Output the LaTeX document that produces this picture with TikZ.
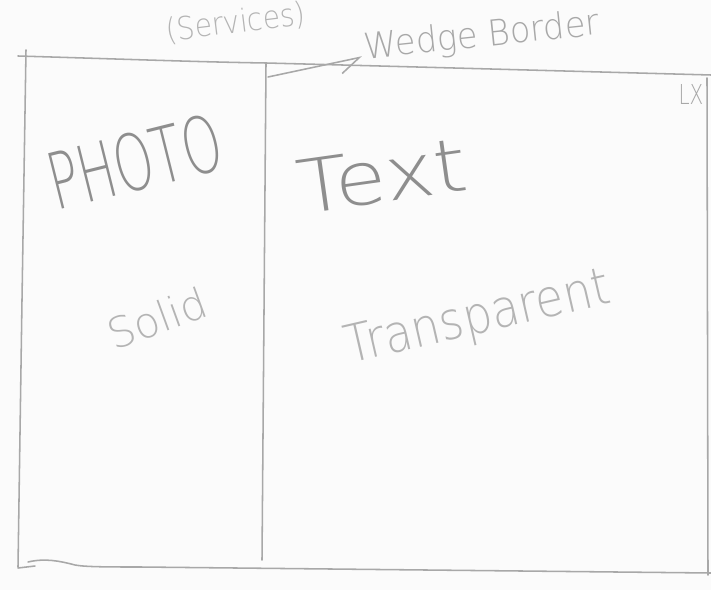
\documentclass[tikz,border=0pt]{standalone}
\usepackage{fontspec}
\usepackage{graphicx}
\newfontfamily\pencilfont{DejaVu Sans ExtraLight}
\usetikzlibrary{arrows.meta}
\definecolor{paper}{HTML}{FBFBFB}
\definecolor{graphite}{HTML}{A8A8A8}
\definecolor{softlead}{HTML}{B4B4B4}
\definecolor{darklead}{HTML}{8E8E8E}
\begin{document}
\begin{tikzpicture}[x=0.025cm,y=-0.025cm,
  frame/.style={draw=graphite, line width=1.1pt, line cap=round, line join=round},
  note/.style={inner sep=0pt, font=\pencilfont, text=#1},
  note/.default=graphite]
  % sheet
  \fill[paper] (0,0) rectangle (711,590);
  \useasboundingbox (0,0) rectangle (711,590);
  \clip (0,0) rectangle (711,590);

  % outer frame, drawn freehand
  \draw[frame] (18,56) .. controls (120,59) and (200,62) .. (266,63)
               .. controls (420,67) and (600,72) .. (711,75);
  \draw[frame] (26,50) -- (22,300) -- (18,567);
  \draw[frame] (18,568) -- (35,566);
  \draw[frame] (28,562) .. controls (45,558) and (60,561) .. (75,565)
               .. controls (85,567) and (110,567) .. (140,567) -- (711,573);
  \draw[frame] (707,78) -- (708,575);

  % divider between the photo panel and the text panel
  \draw[frame] (266,64) -- (262,560);

  % labels
  \node[note=softlead, rotate=7] (services) at (236,23)
    {\resizebox{3.5cm}{0.6cm}{(Services)}};
  \node[note=graphite, rotate=6] (wedgelabel) at (482,37)
    {\resizebox{5.9cm}{0.68cm}{Wedge Border}};
  \node[note=darklead, rotate=14] (photo) at (135,162)
    {\resizebox{4.4cm}{1.45cm}{PHOTO}};
  \node[note=darklead, rotate=8] (textlabel) at (382,176)
    {\resizebox{4.25cm}{1.35cm}{Text}};
  \node[note=softlead, rotate=20, font=\pencilfont\fontsize{30}{30}\selectfont]
    (solid) at (157,318) {Solid};
  \node[note=softlead, rotate=13] (transparent) at (478,320)
    {\resizebox{6.75cm}{0.95cm}{Transparent}};
  \node[note=graphite] (lx) at (691,95)
    {\resizebox{0.62cm}{0.5cm}{LX}};

  % pointer from the divider's top to the wedge border note
  \coordinate (wedgefoot) at (268,77);
  \coordinate (wedgetip) at (362,57);
  \draw[frame, -{Straight Barb[harpoon, swap, length=5mm, width=6mm]}]
    (wedgefoot) -- (wedgetip);
\end{tikzpicture}
\end{document}
